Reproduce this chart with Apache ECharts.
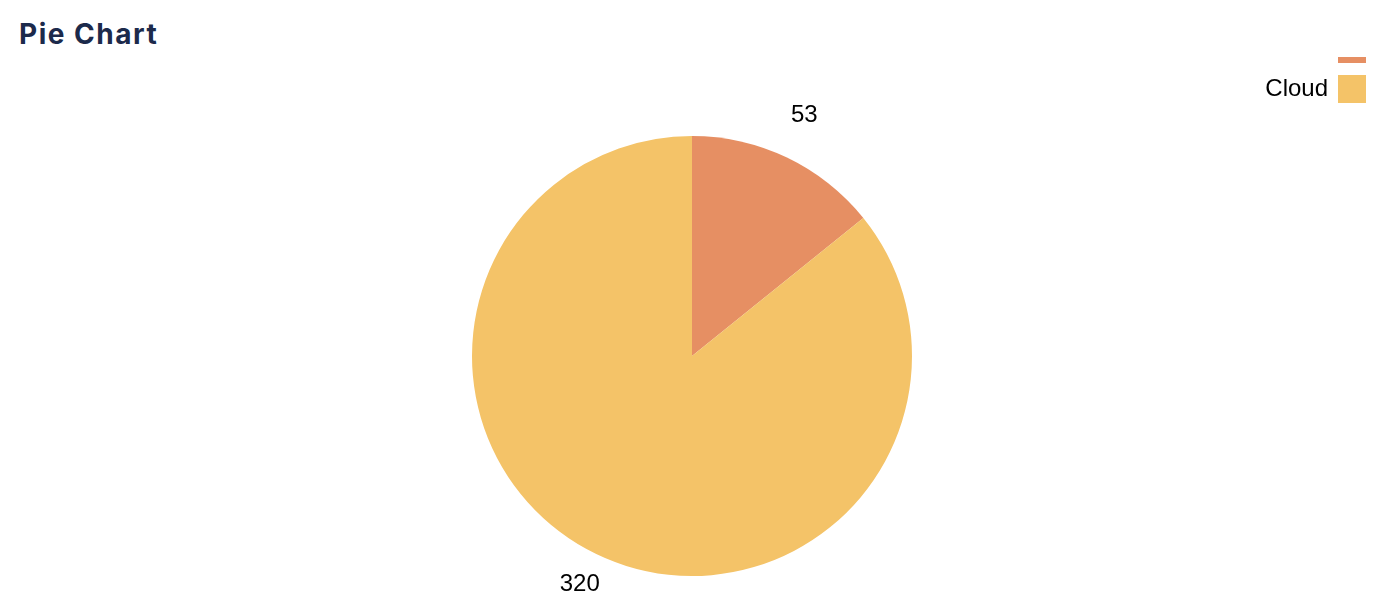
<!DOCTYPE html>
<html>
<head>
<meta charset="utf-8">
<script src="https://cdn.jsdelivr.net/npm/echarts@6/dist/echarts.min.js"></script>
<style>
  html, body { margin: 0; padding: 0; background: #fff; }
  #chart { position: absolute; left: 0; top: 0; width: 1386px; height: 612px; }
  #header { position: absolute; left: 0; top: 0; width: 1386px; height: 57px; background: #fff; z-index: 2; }
  #header h1 { margin: 0; position: absolute; left: 19px; top: 17px; font-family: Inter, "Noto Sans", sans-serif; font-weight: 700; font-size: 28px; color: #1c2a4b; letter-spacing: 1.5px; white-space: nowrap; }
</style>
</head>
<body>
<div id="chart"></div>
<div id="header"><h1>Pie Chart</h1></div>
<script>
const categories = ['On-Premise', 'Cloud'];
const values = [53, 320];
const colors = ['#e68f63', '#f4c368'];

const chart = echarts.init(document.getElementById('chart'), null, { renderer: 'canvas' });
chart.setOption({
  animation: false,
  color: colors,
  legend: {
    orient: 'vertical',
    right: 15,
    top: 30,
    align: 'right',
    itemWidth: 28,
    itemHeight: 28,
    itemGap: 12,
    icon: 'rect',
    textStyle: { fontSize: 24, color: '#000', fontFamily: 'Liberation Sans, Arial, sans-serif', padding: [0, 5, 0, 0] },
    data: categories
  },
  series: [{
    type: 'pie',
    center: [692, 356],
    radius: 220,
    startAngle: 90,
    clockwise: true,
    avoidLabelOverlap: false,
    label: {
      show: true,
      position: 'outside',
      formatter: '{c}',
      fontSize: 24,
      color: '#000',
      fontFamily: 'Liberation Sans, Arial, sans-serif',
      distanceToLabelLine: 0
    },
    labelLine: { show: false, length: 40, length2: 0 },
    labelLayout: { align: 'center', verticalAlign: 'middle', dy: -6 },
    emphasis: { disabled: true },
    data: categories.map((n, i) => ({ name: n, value: values[i] }))
  }]
});
</script>
</body>
</html>
